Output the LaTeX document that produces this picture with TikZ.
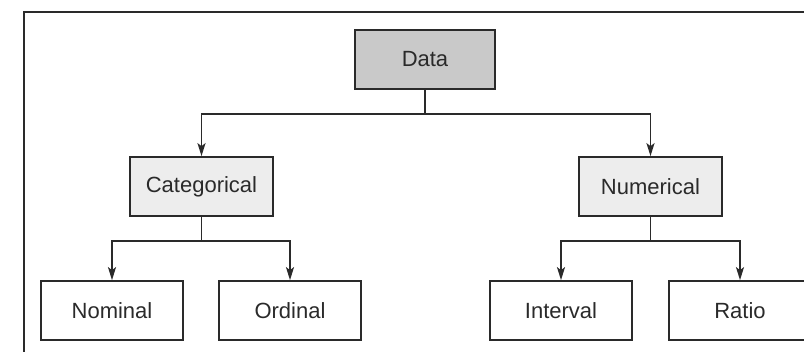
\documentclass[tikz,border=0pt]{standalone}
\usepackage{fontspec}
\setmainfont{Liberation Sans}
\usetikzlibrary{arrows.meta}
\definecolor{ink}{HTML}{2A2A2A}
\definecolor{rootfill}{HTML}{C9C9C9}
\definecolor{midfill}{HTML}{EDEDED}
\begin{document}
\begin{tikzpicture}[x=1pt,y=-1pt,
  box/.style={draw=ink, line width=1.7pt, minimum height=59pt, minimum width=142pt,
    inner sep=0pt, font=\fontsize{22}{26}\selectfont, text=ink},
  rootbox/.style={box, fill=rootfill, minimum width=140pt},
  midbox/.style={box, fill=midfill, minimum width=143pt},
  leafbox/.style={box, fill=white},
  link/.style={draw=ink, line width=1.7pt},
  arrowlink/.style={link, -{Stealth[length=13pt, width=8pt, inset=3pt]}}]
  \useasboundingbox (0,0) rectangle (804,352);
  \fill[white] (0,0) rectangle (804,352);
  % outer frame (open at the right and bottom)
  \draw[ink, line width=1.7pt] (24,360) -- (24,12) -- (812,12);

  % nodes
  \node[rootbox] (data) at (425,59.5) {Data};
  \node[midbox] (cat) at (201.5,186.5) {Categorical};
  \node[midbox] (num) at (650.5,186.5) {Numerical};
  \node[leafbox] (nom) at (112,310.5) {Nominal};
  \node[leafbox] (ord) at (290,310.5) {Ordinal};
  \node[leafbox] (int) at (561,310.5) {Interval};
  \node[leafbox] (rat) at (740,310.5) {Ratio};

  % junctions
  \coordinate (j0) at (data.south |- 0,114);
  \coordinate (j1) at (cat.south |- 0,241);
  \coordinate (j2) at (num.south |- 0,241);

  % connectors
  \draw[link] (data.south) -- (j0);
  \draw[arrowlink] (j0) -| (cat.north);
  \draw[arrowlink] (j0) -| (num.north);
  \draw[link] (cat.south) -- (j1);
  \draw[arrowlink] (j1) -| (nom.north);
  \draw[arrowlink] (j1) -| (ord.north);
  \draw[link] (num.south) -- (j2);
  \draw[arrowlink] (j2) -| (int.north);
  \draw[arrowlink] (j2) -| (rat.north);
\end{tikzpicture}
\end{document}
